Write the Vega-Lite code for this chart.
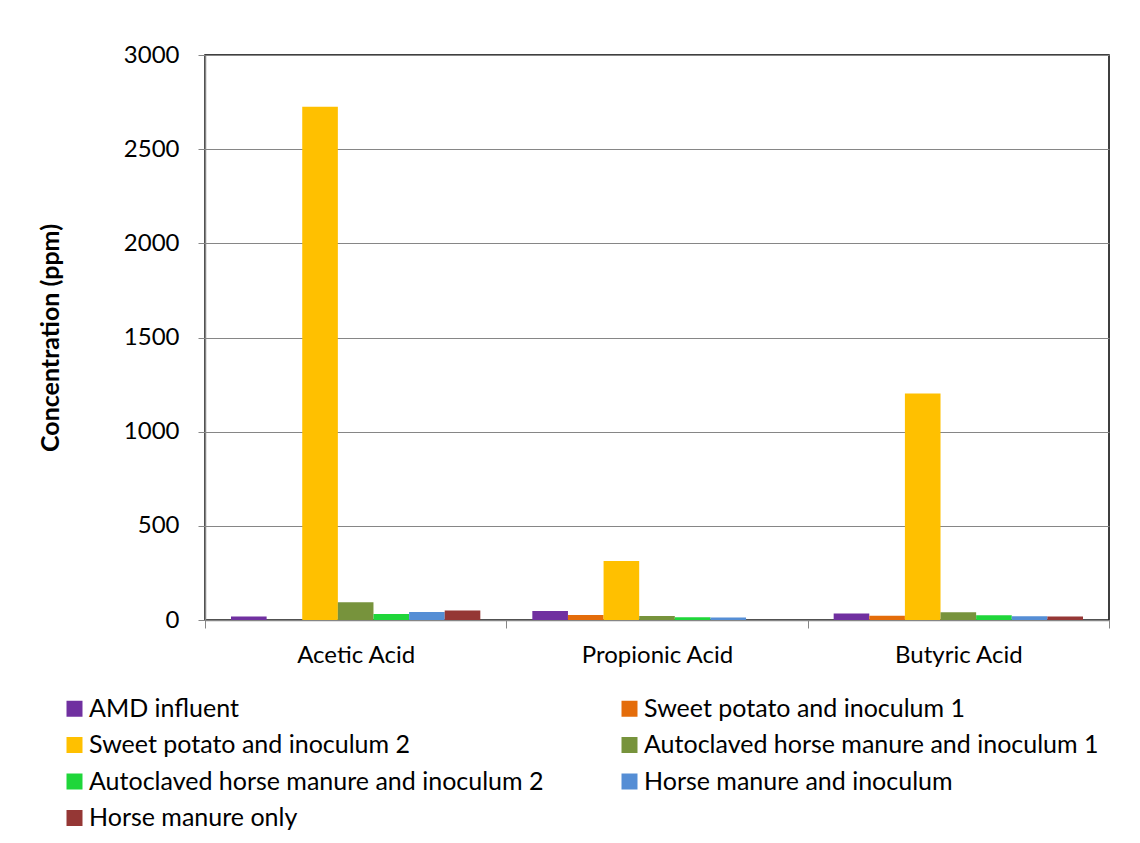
{
  "$schema": "https://vega.github.io/schema/vega-lite/v6.json",
  "width": 904,
  "height": 565,
  "autosize": {"type": "none"},
  "padding": {"left": 205, "top": 55, "right": 31, "bottom": 223},
  "background": "white",
  "config": {
    "font": "Lato",
    "view": {"stroke": "black", "strokeWidth": 1.5},
    "axis": {"labelColor": "black", "titleColor": "black", "domainColor": "#868686", "tickColor": "#868686", "labelFont": "Lato", "titleFont": "Lato"},
    "legend": {"labelFont": "Lato", "labelColor": "black"}
  },
  "data": {
    "values": [
      {"acid": "Acetic Acid", "series": "AMD influent", "value": 18},
      {"acid": "Acetic Acid", "series": "Sweet potato and inoculum 1", "value": 0},
      {"acid": "Acetic Acid", "series": "Sweet potato and inoculum 2", "value": 2725},
      {"acid": "Acetic Acid", "series": "Autoclaved horse manure and inoculum 1", "value": 94},
      {"acid": "Acetic Acid", "series": "Autoclaved horse manure and inoculum 2", "value": 32},
      {"acid": "Acetic Acid", "series": "Horse manure and inoculum", "value": 42},
      {"acid": "Acetic Acid", "series": "Horse manure only", "value": 51},
      {"acid": "Propionic Acid", "series": "AMD influent", "value": 48},
      {"acid": "Propionic Acid", "series": "Sweet potato and inoculum 1", "value": 26},
      {"acid": "Propionic Acid", "series": "Sweet potato and inoculum 2", "value": 313},
      {"acid": "Propionic Acid", "series": "Autoclaved horse manure and inoculum 1", "value": 21},
      {"acid": "Propionic Acid", "series": "Autoclaved horse manure and inoculum 2", "value": 15},
      {"acid": "Propionic Acid", "series": "Horse manure and inoculum", "value": 13},
      {"acid": "Propionic Acid", "series": "Horse manure only", "value": 0},
      {"acid": "Butyric Acid", "series": "AMD influent", "value": 34},
      {"acid": "Butyric Acid", "series": "Sweet potato and inoculum 1", "value": 22},
      {"acid": "Butyric Acid", "series": "Sweet potato and inoculum 2", "value": 1203},
      {"acid": "Butyric Acid", "series": "Autoclaved horse manure and inoculum 1", "value": 41},
      {"acid": "Butyric Acid", "series": "Autoclaved horse manure and inoculum 2", "value": 25},
      {"acid": "Butyric Acid", "series": "Horse manure and inoculum", "value": 20},
      {"acid": "Butyric Acid", "series": "Horse manure only", "value": 18}
    ]
  },
  "mark": {"type": "bar"},
  "encoding": {
    "x": {
      "field": "acid",
      "type": "nominal",
      "sort": ["Acetic Acid", "Propionic Acid", "Butyric Acid"],
      "scale": {"paddingInner": 0, "paddingOuter": 0},
      "axis": {"title": null, "labelAngle": 0, "labelFontSize": 24, "tickBand": "extent", "tickSize": 8, "labelPadding": 15, "domainWidth": 1.5}
    },
    "xOffset": {
      "field": "series",
      "type": "nominal",
      "sort": ["AMD influent", "Sweet potato and inoculum 1", "Sweet potato and inoculum 2", "Autoclaved horse manure and inoculum 1", "Autoclaved horse manure and inoculum 2", "Horse manure and inoculum", "Horse manure only"],
      "scale": {"paddingInner": 0, "paddingOuter": 0.73}
    },
    "y": {
      "field": "value",
      "type": "quantitative",
      "scale": {"domain": [0, 3000]},
      "axis": {"values": [0, 500, 1000, 1500, 2000, 2500, 3000], "format": "d", "title": "Concentration (ppm)", "titleFontSize": 25, "titleFontWeight": "bold", "titlePadding": 60, "labelFontSize": 24, "tickSize": 7, "labelPadding": 19, "grid": true, "gridColor": "#868686", "gridWidth": 1, "domainWidth": 1.5}
    },
    "color": {
      "field": "series",
      "type": "nominal",
      "scale": {
        "domain": ["AMD influent", "Sweet potato and inoculum 1", "Sweet potato and inoculum 2", "Autoclaved horse manure and inoculum 1", "Autoclaved horse manure and inoculum 2", "Horse manure and inoculum", "Horse manure only"],
        "range": ["#7030A0", "#E46C0A", "#FFC000", "#77933C", "#1FD63A", "#558ED5", "#953735"]
      },
      "legend": {
        "title": null,
        "orient": "none",
        "direction": "horizontal",
        "legendX": -143,
        "legendY": 641,
        "columns": 2,
        "gridAlign": "all",
        "columnPadding": 73,
        "rowPadding": 10.5,
        "symbolType": "square",
        "symbolSize": 256,
        "symbolStrokeWidth": 0,
        "labelFontSize": 25,
        "labelOffset": 2,
        "labelLimit": 700
      }
    }
  }
}
